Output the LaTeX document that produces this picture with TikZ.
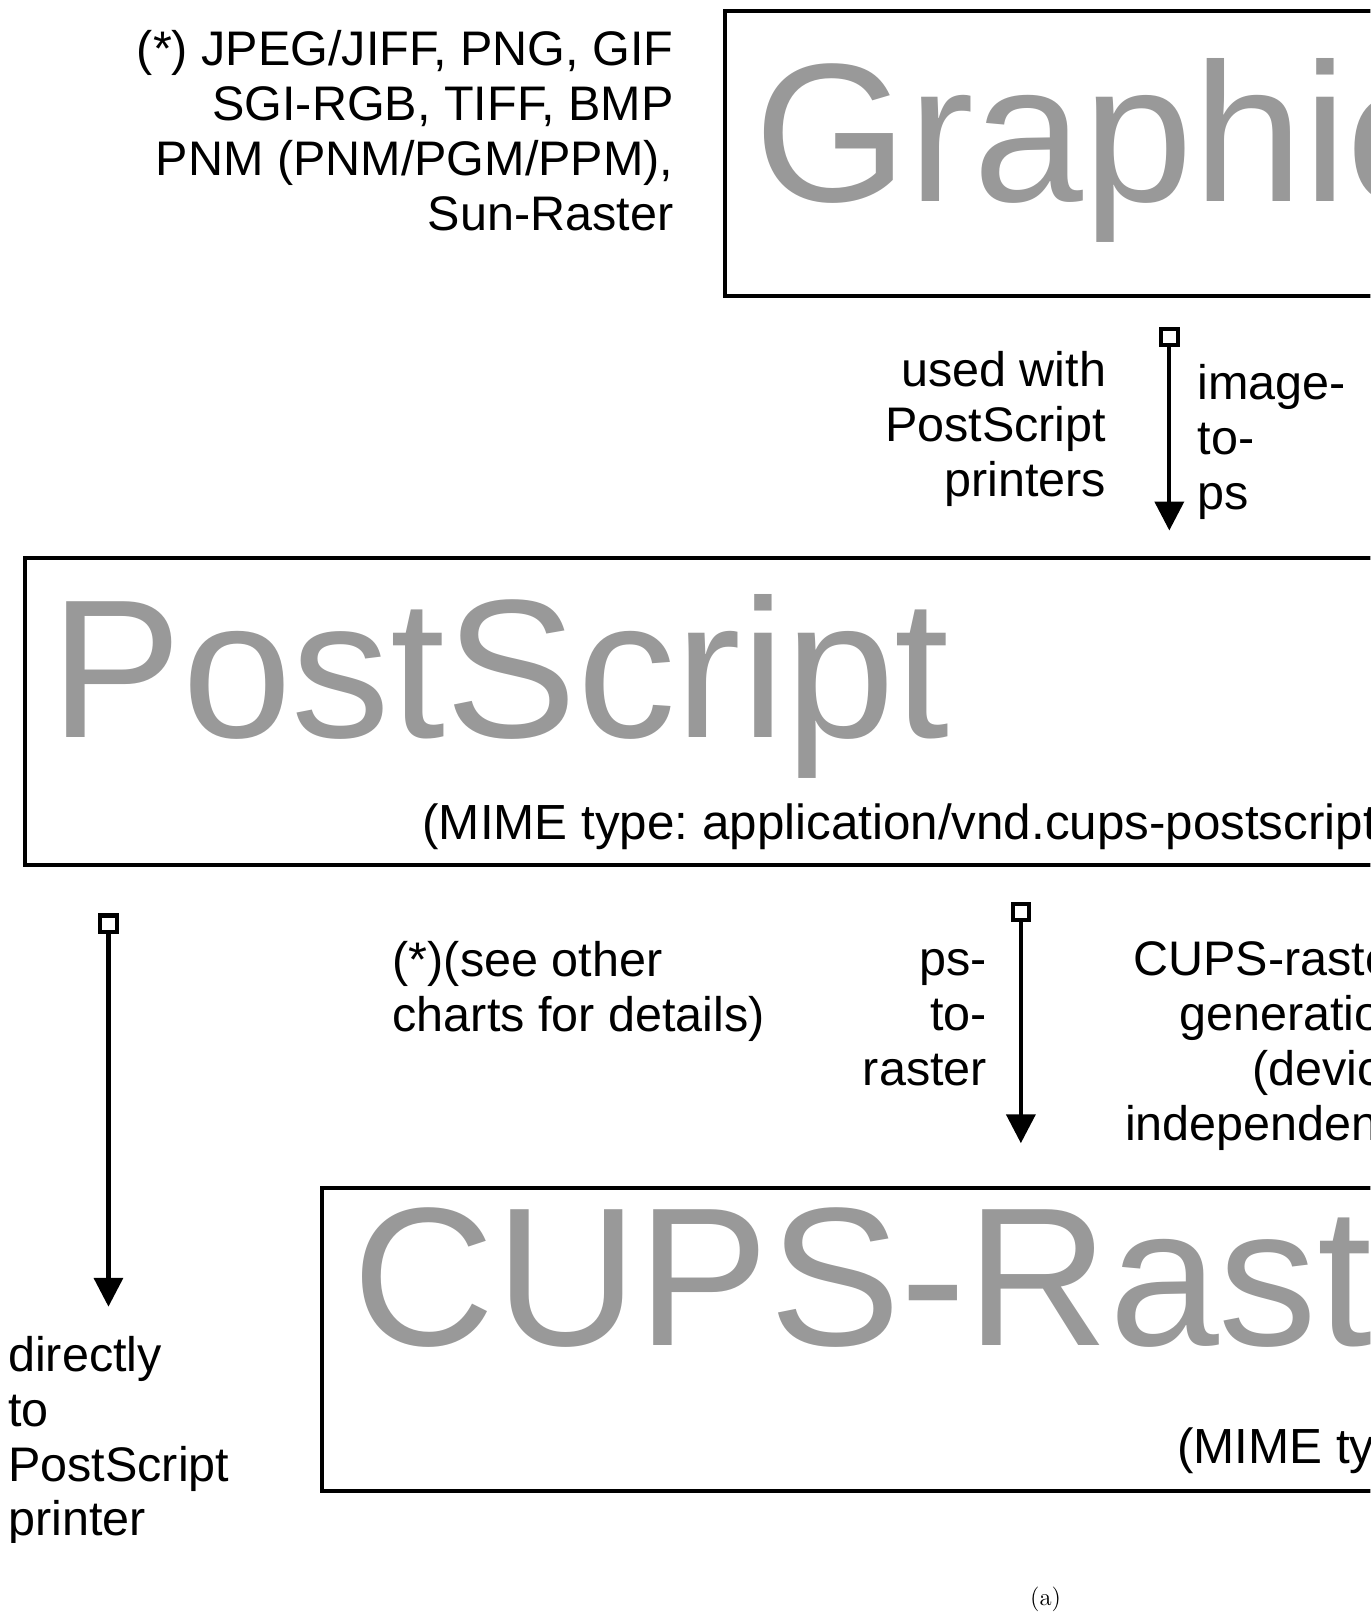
\documentclass[tikz,border=0pt]{standalone}
\usepackage{fontspec}
\newfontfamily\arialf{Liberation Sans}
\usetikzlibrary{arrows.meta}
\begin{document}
\frenchspacing
\begin{tikzpicture}[x=0.5pt,y=-0.5pt,
  boxnode/.style={draw, line width=2pt, inner sep=0pt, outer sep=0pt, anchor=north west},
  lbl/.style={font=\arialf\fontsize{23.6pt}{26.65pt}\selectfont, inner sep=0pt, outer sep=0pt},
  mimelbl/.style={font=\arialf\fontsize{24pt}{26.65pt}\selectfont, inner sep=0pt, outer sep=0pt, anchor=base west},
  bigtxt/.style={font=\arialf\fontsize{96pt}{100pt}\selectfont, text=black!40, inner sep=0pt, outer sep=0pt, anchor=base west},
  conn/.style={line width=2pt, {Square[open,length=10pt,width=10pt]}-{Triangle[length=14pt,width=14pt]}}
]
\useasboundingbox (0,0) rectangle (1333,1568);
\begin{scope}
\clip (0,0) rectangle (1333,1500);
% boxes
\node[boxnode, minimum width=357.25pt, minimum height=138.25pt] (gbox) at (705.5,11) {};
\node[boxnode, minimum width=697.85pt, minimum height=149.55pt] (psbox) at (24.3,542.5) {};
\node[boxnode, minimum width=553.35pt, minimum height=147.3pt] (cbox) at (313.3,1155.4) {};
% big gray titles
\node[bigtxt] (gtitle) at (734,196) {Graphics};
\node[bigtxt] (pstitle) at (49,717) {PostScript};
\node[bigtxt] (ctitle) at (343,1309) {CUPS-Raster};
% MIME lines
\node[mimelbl] (psmime) at (411,817) {(MIME type: application/vnd.cups-postscript)};
\node[mimelbl] (cmime) at (1145,1424) {(MIME type: application/vnd.cups-raster)};
% labels (base anchor = last line)
\node[lbl, anchor=base east, align=right] (formats) at (655,224) {(*) JPEG/JIFF, PNG, GIF\\SGI-RGB, TIFF, BMP\\PNM (PNM/PGM/PPM),\\Sun-Raster};
\node[lbl, anchor=base east, align=right] (usedwith) at (1076,482.6) {used with\\PostScript\\printers};
\node[lbl, anchor=base west, align=left] (imgtops) at (1165,495.6) {image-\\to-\\ps};
\node[lbl, anchor=base west, align=left] (seeother) at (382,1003.3) {(*)(see other\\charts for details)};
\node[lbl, anchor=base east, align=right] (pstoraster) at (960,1055.6) {ps-\\to-\\raster};
\node[lbl, anchor=base east, align=right] (rastergen) at (1370,1108.9) {CUPS-raster\\generation\\(device\\independent)};
\node[lbl, anchor=base west, align=left] (directly) at (8,1493.9) {directly\\to\\PostScript\\printer};
% connector x positions
\coordinate (a1) at (1137.4,0);
\coordinate (a2) at (993,0);
\coordinate (a3) at (105.5,0);
\coordinate (a3end) at (105.5,1271);
% connectors
\draw[conn, shorten <=15.25pt, shorten >=13.25pt] (gbox.south -| a1) -- (psbox.north -| a1);
\draw[conn, shorten <=17.7pt, shorten >=21.7pt] (psbox.south -| a2) -- (cbox.north -| a2);
\draw[conn, shorten <=23.45pt] (psbox.south -| a3) -- (a3end);
\end{scope}
\node[anchor=base, inner sep=0pt, font=\fontsize{12pt}{14pt}\selectfont] (caption) at (1017,1562) {(a)};
\end{tikzpicture}
\end{document}
